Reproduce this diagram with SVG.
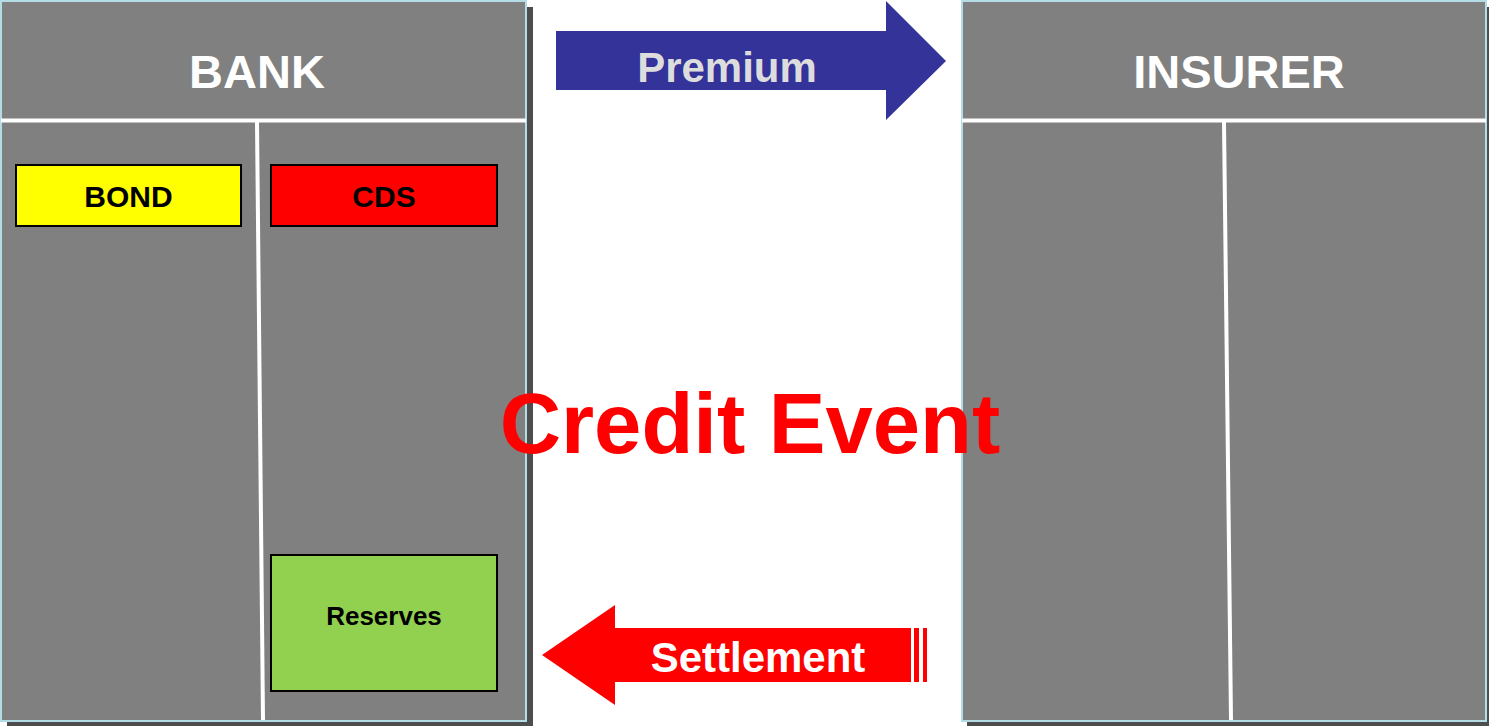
<svg xmlns="http://www.w3.org/2000/svg" width="1489" height="726" viewBox="0 0 1489 726">
<style>
.panel{fill:#808080;stroke:#b4dce4;stroke-width:2}
.shadow{fill:#4d4d4d}
.div{stroke:#ffffff;stroke-width:4;fill:none}
.hdr{font-family:"Liberation Sans",Arial,sans-serif;font-weight:bold;font-size:47px;fill:#ffffff;text-anchor:middle}
.box{stroke:#000000;stroke-width:2}
.lbl{font-family:"Liberation Sans",Arial,sans-serif;font-weight:bold;fill:#000000;text-anchor:middle}
.arrtxt{font-family:"Liberation Sans",Arial,sans-serif;font-weight:bold;font-size:42px;text-anchor:middle}
</style>
<rect width="1489" height="726" fill="#ffffff"/>
<g id="bank">
<rect class="shadow" x="7" y="7" width="526" height="721"/>
<rect class="panel" x="1" y="1" width="525" height="720"/>
<line class="div" x1="1" y1="120.5" x2="526" y2="120.5"/>
<line class="div" x1="257" y1="122" x2="263" y2="720"/>
<text class="hdr" x="257" y="88">BANK</text>
</g>
<g id="bond">
<rect class="box" x="16" y="165" width="225" height="61" fill="#ffff00"/>
<text class="lbl" x="128.5" y="207" font-size="30">BOND</text>
</g>
<g id="cds">
<rect class="box" x="271" y="165" width="226" height="61" fill="#ff0000"/>
<text class="lbl" x="384" y="207" font-size="30">CDS</text>
</g>
<g id="reserves">
<rect class="box" x="271" y="555" width="226" height="136" fill="#92d050"/>
<text class="lbl" x="384" y="625" font-size="26">Reserves</text>
</g>
<g id="insurer">
<rect class="shadow" x="967" y="7" width="526" height="721"/>
<rect class="panel" x="962" y="1" width="524" height="720"/>
<line class="div" x1="962" y1="120.5" x2="1486" y2="120.5"/>
<line class="div" x1="1224" y1="122" x2="1231" y2="720"/>
<text class="hdr" x="1239" y="88">INSURER</text>
</g>
<g id="connectors">
<g id="premium">
<polygon points="556,31 886,31 886,1 946,61 886,120 886,90 556,90" fill="#333399"/>
<text class="arrtxt" x="727" y="82" fill="#dddddd">Premium</text>
</g>
<g id="settlement">
<polygon points="542,655 615,605 615,628 911,628 911,682 615,682 615,705" fill="#ff0000"/>
<rect x="914" y="628" width="5" height="54" fill="#ff0000"/>
<rect x="923" y="628" width="4" height="54" fill="#ff0000"/>
<text class="arrtxt" x="758" y="672" fill="#ffffff">Settlement</text>
</g>
</g>
<g id="credit-event">
<text x="750" y="453" font-family="'Liberation Sans',Arial,sans-serif" font-weight="bold" font-size="85" fill="#ff0000" text-anchor="middle">Credit Event</text>
</g>
</svg>
